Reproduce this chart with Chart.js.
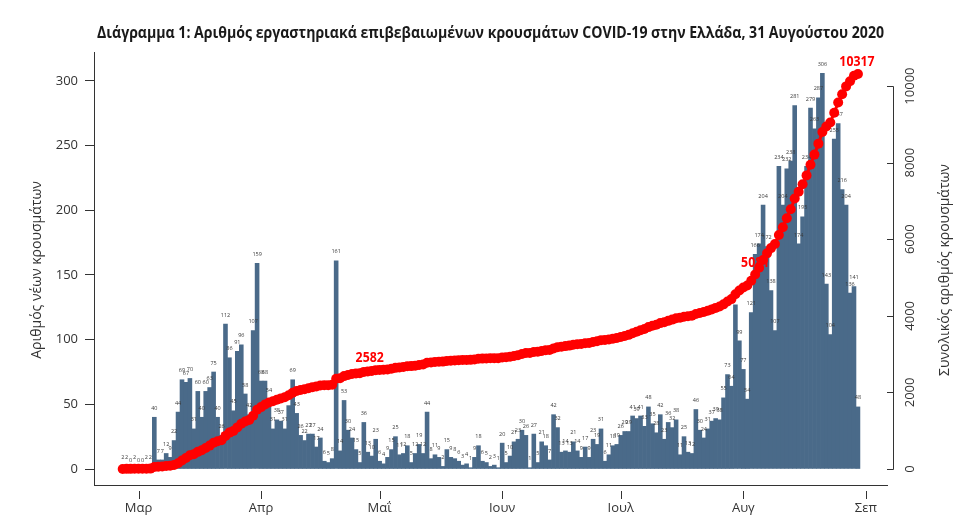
<!DOCTYPE html>
<html lang="el"><head><meta charset="utf-8">
<script src="https://cdn.jsdelivr.net/npm/chart.js@4.4.1/dist/chart.umd.min.js"></script>
<style>
html,body{margin:0;padding:0;background:#ffffff;}
#wrap{position:relative;width:980px;height:524px;}
</style></head>
<body><div id="wrap"><canvas id="chart" width="980" height="524"></canvas></div>
<script>
const chartTitle = 'Διάγραμμα 1: Αριθμός εργαστηριακά επιβεβαιωμένων κρουσμάτων COVID-19 στην Ελλάδα, 31 Αυγούστου 2020';
const leftAxisTitle = 'Αριθμός νέων κρουσμάτων';
const rightAxisTitle = 'Συνολικός αριθμός κρουσμάτων';
const monthTickDays = [0, 31, 61, 92, 122, 153, 184];
const monthTickLabels = ['Μαρ', 'Απρ', 'Μαΐ', 'Ιουν', 'Ιουλ', 'Αυγ', 'Σεπ'];
const leftTicks = [0, 50, 100, 150, 200, 250, 300];
const rightTicks = [0, 2000, 4000, 6000, 8000, 10000];
const firstDayOffset = -4; // 26 Φεβ relative to 1 Μαρ

const casesFeb = [2, 2, 0, 2];
const casesMar = [0, 0, 2, 2, 40, 7, 7, 12, 9, 22, 44, 69, 67, 70, 31, 60, 40, 60, 63, 75, 40, 26, 112, 86, 45, 91, 96, 58, 42, 107, 159];
const casesApr = [68, 68, 54, 31, 38, 37, 31, 49, 69, 43, 26, 22, 27, 27, 17, 24, 6, 5, 8, 161, 14, 53, 30, 24, 15, 5, 36, 13, 10, 23];
const casesMay = [6, 4, 9, 15, 25, 11, 12, 18, 5, 12, 19, 12, 44, 8, 11, 9, 2, 15, 9, 8, 6, 3, 4, 1, 9, 18, 6, 5, 2, 3, 1];
const casesJun = [20, 5, 10, 21, 23, 30, 26, 1, 27, 5, 21, 18, 7, 42, 32, 13, 14, 13, 21, 14, 9, 17, 9, 23, 19, 31, 6, 11, 18, 19];
const casesJul = [26, 29, 29, 41, 39, 41, 33, 48, 35, 28, 42, 23, 36, 32, 38, 11, 25, 13, 12, 46, 30, 24, 31, 37, 39, 38, 55, 73, 64, 127, 99];
const casesAug = [77, 54, 121, 166, 174, 204, 172, 138, 107, 234, 204, 232, 238, 281, 174, 195, 234, 279, 263, 287, 306, 143, 104, 255, 267, 216, 204, 136, 141, 48];
const labelledDays = [60, 156, 182];

const daily = [].concat(casesFeb, casesMar, casesApr, casesMay, casesJun, casesJul, casesAug);
const days = daily.map((_, i) => i + firstDayOffset);
let running = 0;
const cumulative = daily.map(v => (running += v));

const FONT = '"Open Sans", "DejaVu Sans", sans-serif';
const INK = '#333333';
const labelShift = [-6, 0, -1];

function condensedText(ctx, text, x, y, font, sx, color) {
  ctx.save();
  ctx.font = font;
  ctx.fillStyle = color;
  ctx.translate(x, y);
  ctx.scale(sx, 1);
  ctx.textAlign = 'center';
  ctx.textBaseline = 'middle';
  ctx.fillText(text, 0, 0);
  ctx.restore();
}
function rotatedText(ctx, text, x, y, font, color) {
  ctx.save();
  ctx.font = font;
  ctx.fillStyle = color;
  ctx.translate(x, y);
  ctx.rotate(-Math.PI / 2);
  ctx.textAlign = 'center';
  ctx.textBaseline = 'middle';
  ctx.fillText(text, 0, 0);
  ctx.restore();
}

const overlay = {
  id: 'overlay',
  afterDatasetDraw(chart, args) {
    if (args.index !== 0) return;
    const ctx = chart.ctx;
    const meta = chart.getDatasetMeta(0);
    ctx.save();
    ctx.font = '5.5px ' + FONT;
    ctx.fillStyle = '#3a3a3a';
    ctx.textAlign = 'center';
    ctx.textBaseline = 'middle';
    meta.data.forEach((bar, i) => {
      ctx.fillText(String(daily[i]), bar.x, bar.y - 9);
    });
    ctx.restore();
    const x = chart.scales.x, y2 = chart.scales.y2;
    labelledDays.forEach((d, k) => {
      const i = d - firstDayOffset;
      const px = x.getPixelForValue(d), py = y2.getPixelForValue(cumulative[i]);
      condensedText(ctx, String(cumulative[i]), px + labelShift[k], py - 12, 'bold 15px ' + FONT, 0.82, '#ff0000');
    });
  },
  afterDraw(chart) {
    const ctx = chart.ctx;
    const area = chart.chartArea;
    ctx.save();
    ctx.font = 'bold 16px ' + FONT;
    const w = ctx.measureText(chartTitle).width;
    ctx.restore();
    condensedText(ctx, chartTitle, 490.5, 33, 'bold 16px ' + FONT, 787 / w, '#1a1a1a');
    rotatedText(ctx, leftAxisTitle, 37, 270, '14px ' + FONT, INK);
    const y2 = chart.scales.y2;
    const axX = 893;
    ctx.save();
    ctx.strokeStyle = INK;
    ctx.lineWidth = 1;
    ctx.beginPath();
    ctx.moveTo(axX + 0.5, Math.round(y2.getPixelForValue(rightTicks[0])) + 0.5);
    ctx.lineTo(axX + 0.5, Math.round(y2.getPixelForValue(rightTicks[rightTicks.length - 1])) + 0.5);
    rightTicks.forEach(t => {
      const py = Math.round(y2.getPixelForValue(t)) + 0.5;
      ctx.moveTo(axX + 0.5, py);
      ctx.lineTo(axX - 6, py);
    });
    ctx.stroke();
    ctx.restore();
    rightTicks.forEach(t => {
      rotatedText(ctx, String(t), 910, y2.getPixelForValue(t), '13px ' + FONT, INK);
    });
    rotatedText(ctx, rightAxisTitle, 945, 270, '14px ' + FONT, INK);
    const xs = chart.scales.x;
    ctx.save();
    ctx.strokeStyle = INK;
    ctx.lineWidth = 1;
    ctx.beginPath();
    monthTickDays.forEach(d => {
      const px = Math.round(xs.getPixelForValue(d)) + 0.5;
      ctx.moveTo(px, area.bottom + 6);
      ctx.lineTo(px, area.bottom + 14);
    });
    ctx.stroke();
    ctx.restore();
  }
};

new Chart(document.getElementById('chart').getContext('2d'), {
  data: {
    datasets: [
      {
        type: 'bar',
        label: 'Νέα κρούσματα',
        data: days.map((d, i) => ({ x: d, y: daily[i] })),
        backgroundColor: '#4a6a89',
        borderWidth: 0,
        barPercentage: 1,
        categoryPercentage: 1,
        xAxisID: 'x',
        yAxisID: 'y',
        order: 2
      },
      {
        type: 'line',
        label: 'Σύνολο κρουσμάτων',
        data: days.map((d, i) => ({ x: d, y: cumulative[i] })),
        borderColor: '#ff0000',
        borderWidth: 3,
        pointRadius: 5,
        pointHoverRadius: 5,
        pointBackgroundColor: '#ff0000',
        pointBorderWidth: 0,
        xAxisID: 'x',
        yAxisID: 'y2',
        order: 1
      }
    ]
  },
  options: {
    responsive: false,
    animation: false,
    devicePixelRatio: 1,
    events: [],
    layout: { padding: { top: 52, right: 93, left: 0, bottom: 0 } },
    plugins: { legend: { display: false }, tooltip: { enabled: false }, title: { display: false } },
    scales: {
      x: {
        type: 'linear',
        offset: false,
        min: -11.26,
        max: 189.35,
        afterBuildTicks: s => { s.ticks = monthTickDays.map(v => ({ value: v })); },
        ticks: {
          autoSkip: false, maxRotation: 0, minRotation: 0,
          callback: v => { const k = monthTickDays.indexOf(v); return k >= 0 ? monthTickLabels[k] : ''; },
          font: { family: FONT, size: 13 }, color: INK, padding: 15
        },
        grid: { display: false, drawTicks: false, offset: false },
        border: { display: true, color: INK, width: 1 },
        afterFit: s => { s.height = 39; }
      },
      y: {
        type: 'linear',
        position: 'left',
        min: -12.37,
        max: 322.4,
        afterBuildTicks: s => { s.ticks = leftTicks.map(v => ({ value: v })); },
        ticks: { font: { family: FONT, size: 13 }, color: INK, padding: 7 },
        grid: { drawOnChartArea: false, tickLength: 9, color: INK },
        border: { display: true, color: INK, width: 1 },
        afterFit: s => { s.width = 94; }
      },
      y2: {
        type: 'linear',
        position: 'right',
        display: false,
        min: -418,
        max: 10890
      }
    }
  },
  plugins: [overlay]
});
</script>
</body></html>
